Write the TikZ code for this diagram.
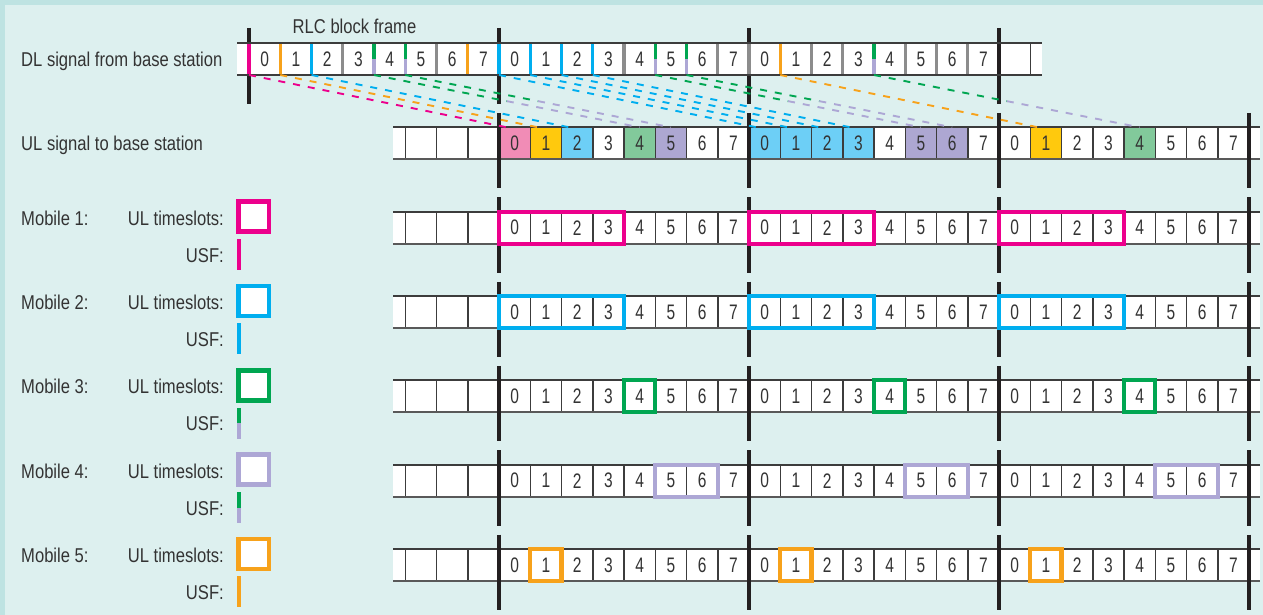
\documentclass[tikz,border=0pt]{standalone}
\usepackage{fontspec}
\setmainfont{Liberation Sans}[FakeStretch=0.83]
\newfontfamily\digitfont{Liberation Sans}[FakeStretch=0.74]
\usetikzlibrary{calc}
\definecolor{bgA}{HTML}{DDF0EF}
\definecolor{bgB}{HTML}{BEE3E2}
\definecolor{cPink}{HTML}{EC008C}
\definecolor{cBlue}{HTML}{00AEEF}
\definecolor{cGreen}{HTML}{00A651}
\definecolor{cLav}{HTML}{ADA7D5}
\definecolor{cOrange}{HTML}{F7A21B}
\definecolor{fPink}{HTML}{F18CB6}
\definecolor{fYellow}{HTML}{FFC90D}
\definecolor{fBlue}{HTML}{6DCFF6}
\definecolor{fGreen}{HTML}{82C99B}
\definecolor{fLav}{HTML}{ADA7D2}
\definecolor{cBar}{HTML}{231F20}
\definecolor{cSep}{HTML}{8C8C8C}
\definecolor{cLine}{HTML}{3C3C3C}
\definecolor{cText}{HTML}{333333}
\begin{document}
\begin{tikzpicture}[x=1pt,y=-1pt,
  font=\fontsize{20}{24}\selectfont,
  slot/.style={minimum width=31.25pt,minimum height=32pt,inner sep=0pt,outer sep=0pt,anchor=north west,text=cText,font=\digitfont\fontsize{21}{24}\selectfont},
  bar/.style={line width=4pt,draw=cBar},
  dlsep/.style={line width=3.4pt},
  ulsep/.style={line width=1.5pt,draw=cLine},
  hline/.style={line width=1.8pt,draw=cLine},
  hlineb/.style={line width=2.2pt,draw=black!65},
  selbox/.style={line width=4.3pt,draw=#1},
  legbox/.style={line width=4.5pt,draw=#1,fill=white},
  usf/.style={line width=1.9pt,dash pattern=on 7pt off 8pt,draw=#1},
  lbl/.style={inner sep=0pt,text=cText}
]
\def\w{31.25}
% background
\fill[bgB] (0,0) rectangle (1263,615);
\fill[bgA] (5,5) rectangle (1263,615);
\useasboundingbox (0,0) rectangle (1263,615);

% ---------- DL row ----------
\node[lbl,anchor=base west] (rlc) at (292.5,33.3) {RLC block frame};
\node[lbl,anchor=base west] (dllab) at (21,66.7) {DL signal from base station};
\fill[white] (237,43) rectangle (1042,75);
\foreach \f in {1,2,3}
  \foreach \k in {0,...,7}
    \node[slot] (dl-\f-\k) at ({249+250*(\f-1)+\k*\w},43) {\k};
\foreach \x in {249,499,749,999} \draw[bar] (\x,28) -- (\x,104);
\foreach \f/\c in {1/cPink,2/cBlue,3/cSep}
  \draw[line width=4.2pt,draw=\c] (dl-\f-0.north west) -- (dl-\f-0.south west);
\foreach \f/\k/\c in {1/1/cOrange,1/2/cBlue,1/3/cSep,1/6/cSep,1/7/cOrange,2/1/cBlue,2/2/cBlue,2/3/cBlue,2/4/cSep,2/7/cSep,3/1/cOrange,3/2/cSep,3/3/cSep,3/5/cSep,3/6/cSep,3/7/cSep}
  \draw[dlsep,draw=\c] (dl-\f-\k.north west) -- (dl-\f-\k.south west);
\foreach \f/\k in {1/4,1/5,2/5,2/6,3/4} {
  \draw[dlsep,draw=cGreen] (dl-\f-\k.north west) -- (dl-\f-\k.west);
  \draw[dlsep,draw=cLav] (dl-\f-\k.west) -- (dl-\f-\k.south west);
}
\draw[ulsep] (1030.25,43) -- (1030.25,75);
\draw[hline] (237,43) -- (1042,43);
\draw[hline] (237,75) -- (1042,75);

% ---------- UL row ----------
\def\T{127.3}
\node[lbl,anchor=base west] (ullab) at (21,150.7) {UL signal to base station};
\fill[white] (393,\T) rectangle (1260,\T+32);
\foreach \c [count=\k from 0] in {fPink,fYellow,fBlue,white,fGreen,fLav,white,white}
  \node[slot,fill=\c] (ul-1-\k) at ({499+\k*\w},\T) {\k};
\foreach \c [count=\k from 0] in {fBlue,fBlue,fBlue,fBlue,white,fLav,fLav,white}
  \node[slot,fill=\c] (ul-2-\k) at ({749+\k*\w},\T) {\k};
\foreach \c [count=\k from 0] in {white,fYellow,white,white,fGreen,white,white,white}
  \node[slot,fill=\c] (ul-3-\k) at ({999+\k*\w},\T) {\k};
\foreach \i in {0,...,27} \draw[ulsep] ({405.25+\i*\w},\T) -- ({405.25+\i*\w},\T+32);
\draw[hline] (393,\T) -- (1260,\T);
\draw[hlineb] (393,\T+32) -- (1260,\T+32);
\foreach \x in {499,749,999,1249} \draw[bar] (\x,\T-14.5) -- (\x,\T+61);

% ---------- Mobile rows ----------
\foreach \m/\T/\c in {1/211.7/cPink,2/296/cBlue,3/380.3/cGreen,4/464.7/cLav,5/549/cOrange} {
  \node[lbl,anchor=base west] (mob-\m) at (21,\T+13.6) {Mobile \m:};
  \node[lbl,anchor=base east] (uts-\m) at (224,\T+13.6) {UL timeslots:};
  \node[lbl,anchor=base east] (usf-\m) at (224,\T+50.6) {USF:};
  \draw[legbox=\c] (238.5,\T-10) rectangle (269,\T+20);
  \fill[white] (393,\T) rectangle (1260,\T+32);
  \foreach \f in {1,2,3}
    \foreach \k in {0,...,7}
      \node[slot] (m\m-\f-\k) at ({499+250*(\f-1)+\k*\w},\T) {\k};
  \foreach \i in {0,...,27} \draw[ulsep] ({405.25+\i*\w},\T) -- ({405.25+\i*\w},\T+32);
  \draw[hline] (393,\T) -- (1260,\T);
  \draw[hlineb] (393,\T+32) -- (1260,\T+32);
  \foreach \x in {499,749,999,1249} \draw[bar] (\x,\T-14.5) -- (\x,\T+61);
}
% USF legend bars
\fill[cPink] (236.5,239) rectangle (240.5,270);
\fill[cBlue] (236.5,323.3) rectangle (240.5,354.3);
\fill[cGreen] (236.5,407.6) rectangle (240.5,423);
\fill[cLav] (236.5,423) rectangle (240.5,438.6);
\fill[cGreen] (236.5,492) rectangle (240.5,507.5);
\fill[cLav] (236.5,507.5) rectangle (240.5,523);
\fill[cOrange] (236.5,576.3) rectangle (240.5,607.3);

% selection boxes
\foreach \f in {1,2,3} {
  \draw[selbox=cPink] (m1-\f-0.north west) rectangle (m1-\f-3.south east);
  \draw[selbox=cBlue] (m2-\f-0.north west) rectangle (m2-\f-3.south east);
  \draw[selbox=cGreen] (m3-\f-4.north west) rectangle (m3-\f-4.south east);
  \draw[selbox=cLav] (m4-\f-5.north west) rectangle (m4-\f-6.south east);
  \draw[selbox=cOrange] (m5-\f-1.north west) rectangle (m5-\f-1.south east);
}

% ---------- USF dashed connectors ----------
\foreach \f/\k/\c in {1/0/cPink,1/1/cOrange,1/2/cBlue,2/0/cBlue,2/1/cBlue,2/2/cBlue,2/3/cBlue,3/1/cOrange}
  \draw[usf=\c] (dl-\f-\k.south west) -- ($(ul-\f-\k.north west)!0.25!(ul-\f-\k.north east)$);
\foreach \f/\k in {1/4,1/5,2/5,2/6,3/4} {
  \coordinate (t-\f-\k) at ($(ul-\f-\k.north west)!0.5!(ul-\f-\k.north east)$);
  \coordinate (h-\f-\k) at ($(dl-\f-\k.south west)!0.5!(t-\f-\k)$);
  \draw[usf=cGreen] (dl-\f-\k.south west) -- (h-\f-\k);
  \draw[usf=cLav] (h-\f-\k) -- (t-\f-\k);
}
\end{tikzpicture}
\end{document}
